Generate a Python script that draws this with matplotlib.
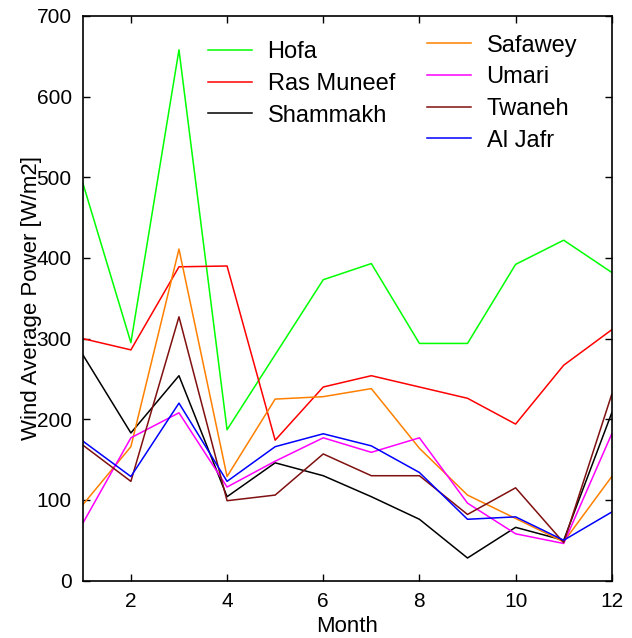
import numpy as np
import matplotlib
matplotlib.use("Agg")
import matplotlib.pyplot as plt

plt.rcParams['font.family'] = ['Liberation Sans', 'DejaVu Sans']

months = np.arange(1, 13)

hofa = [493, 295, 658, 187, 280, 373, 393, 294, 294, 392, 422, 382]
ras_muneef = [300, 286, 389, 390, 174, 240, 254, 240, 226, 194, 267, 311]
shammakh = [280, 183, 254, 104, 146, 130, 104, 76, 28, 66, 50, 208]
safawey = [94, 166, 411, 129, 225, 228, 238, 164, 106, 77, 48, 129]
umari = [71, 177, 208, 116, 148, 177, 159, 177, 96, 58, 46, 182]
twaneh = [168, 123, 327, 99, 106, 157, 130, 130, 82, 115, 47, 231]
al_jafr = [173, 129, 220, 123, 166, 182, 167, 134, 76, 79, 50, 85]

names_1 = ["Hofa", "Ras Muneef", "Shammakh"]
names_2 = ["Safawey", "Umari", "Twaneh", "Al Jafr"]

fig = plt.figure(figsize=(6.32, 6.38), dpi=100)
ax = fig.add_axes([0.131, 0.090, 0.837, 0.885])

lw = 1.1
h1 = ax.plot(months, hofa, color='#00ff00', lw=lw)
h2 = ax.plot(months, ras_muneef, color='#ff0000', lw=lw)
h3 = ax.plot(months, shammakh, color='#000000', lw=lw)
h4 = ax.plot(months, safawey, color='#ff8000', lw=lw)
h5 = ax.plot(months, umari, color='#ff00ff', lw=lw)
h6 = ax.plot(months, twaneh, color='#801010', lw=lw)
h7 = ax.plot(months, al_jafr, color='#0000ff', lw=lw)

ax.set_xlim(1, 12)
ax.set_ylim(0, 700)
ax.set_xticks([2, 4, 6, 8, 10, 12])
ax.set_yticks(range(0, 701, 100))
ax.tick_params(direction='in', top=True, right=True, length=5, width=1,
               labelsize=15, pad=8)
for s in ax.spines.values():
    s.set_linewidth(1.2)

ax.set_xlabel("Month", fontsize=16)
ax.set_ylabel("Wind Average Power [W/m2]", fontsize=16)
ax.xaxis.set_label_coords(0.5, -0.062)
ax.yaxis.set_label_coords(-0.078, 0.5)

leg_kw = dict(frameon=False, fontsize=17, handlelength=1.86, handletextpad=0.68,
              labelspacing=0.41, borderpad=0, borderaxespad=0, loc='upper left')
leg1 = ax.legend(h1 + h2 + h3, names_1, bbox_to_anchor=(0.236, 0.955), **leg_kw)
ax.add_artist(leg1)
ax.legend(h4 + h5 + h6 + h7, names_2, bbox_to_anchor=(0.650, 0.967), **leg_kw)

fig.savefig("out.png", dpi=100)
